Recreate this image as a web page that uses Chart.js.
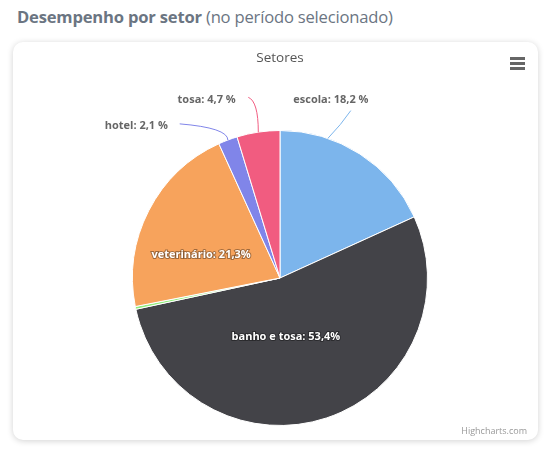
<!DOCTYPE html>
<html lang="pt">
<head>
    <meta charset="UTF-8">
    <title>Desempenho por setor</title>
    <script src="https://cdn.jsdelivr.net/npm/chart.js"></script>
    <style>
        body { margin: 0; background: #fff; font-family: "Open Sans", sans-serif; }
        #heading { position: absolute; left: 17px; top: 5px; font-size: 16.6px; color: #6b7582; letter-spacing: -0.2px; }
        #heading b { font-weight: 700; }
        #card {
            position: absolute; left: 13px; top: 42px; width: 525px; height: 398px;
            background: #fff; border-radius: 10px;
            box-shadow: 0 1px 6px rgba(0,0,0,0.18);
        }
        #card canvas { position: absolute; left: 0; top: 0; }
        #title { position: absolute; left: 0; width: 534px; top: 6px; text-align: center; font-size: 13.5px; color: #555; }
        #menu { position: absolute; left: 497px; top: 15px; width: 15px; }
        #menu div { height: 2.5px; background: #666; margin-bottom: 2.5px; }
        #credits { position: absolute; right: 11px; bottom: 3px; font-size: 9px; color: #999; }
    </style>
</head>
<body>
    <div id="heading"><b>Desempenho por setor</b> (no período selecionado)</div>
    <div id="card">
        <canvas id="pieChart" width="525" height="398"></canvas>
        <div id="title">Setores</div>
        <div id="menu"><div></div><div></div><div></div></div>
        <div id="credits">Highcharts.com</div>
    </div>

    <script>
        // setores e percentuais
        var sectors = ['escola', 'banho e tosa', 'outros', 'veterinário', 'hotel', 'tosa'];
        var shares = [18.2, 53.4, 0.3, 21.3, 2.1, 4.7];
        var colors = ['#7cb5ec', '#434348', '#90ed7d', '#f7a35c', '#8085e9', '#f15c80'];
        var insideLabels = ['banho e tosa', 'veterinário'];
        var hiddenLabels = ['outros'];

        function fmt(v) {
            return v.toFixed(1).replace('.', ',');
        }

        // label placement, in units of the pie radius, relative to the centre
        var labelSpots = {
            'escola':       { x: 0.48,  y: -1.135, tx: 0.345, ty: -1.21, align: 'center' },
            'tosa':         { x: -0.215, y: -1.225, tx: -0.30, ty: -1.21, align: 'right' },
            'hotel':        { x: -0.68, y: -1.045, tx: -0.76, ty: -1.03, align: 'right' },
            'veterinário':  { tx: -0.535, ty: -0.155 },
            'banho e tosa': { tx: 0.04, ty: 0.40 }
        };

        var pieLabels = {
            id: 'pieLabels',
            afterDatasetsDraw: function (chart) {
                var ctx = chart.ctx;
                var arcs = chart.getDatasetMeta(0).data;
                ctx.save();
                ctx.font = 'bold 11px "Open Sans", sans-serif';
                ctx.textBaseline = 'middle';
                arcs.forEach(function (arc, i) {
                    var name = sectors[i];
                    if (hiddenLabels.indexOf(name) >= 0) return;
                    var r = arc.outerRadius, cx = arc.x, cy = arc.y;
                    var spot = labelSpots[name];
                    if (insideLabels.indexOf(name) >= 0) {
                        var txt = name + ': ' + fmt(shares[i]) + '%';
                        ctx.textAlign = 'center';
                        ctx.lineWidth = 2;
                        ctx.strokeStyle = 'rgba(0,0,0,0.35)';
                        ctx.strokeText(txt, cx + spot.tx * r, cy + spot.ty * r);
                        ctx.fillStyle = '#fff';
                        ctx.fillText(txt, cx + spot.tx * r, cy + spot.ty * r);
                        return;
                    }
                    var mid = (arc.startAngle + arc.endAngle) / 2;
                    var ex = cx + Math.cos(mid) * r, ey = cy + Math.sin(mid) * r;
                    if (name === 'escola') {
                        // connector meets the rim below the lifted label
                        var a = -Math.PI / 2 + 0.33;
                        ex = cx + Math.cos(a) * r; ey = cy + Math.sin(a) * r;
                    }
                    var lx = cx + spot.x * r, ly = cy + spot.y * r;
                    ctx.beginPath();
                    ctx.moveTo(lx, ly);
                    if (name === 'escola') {
                        ctx.quadraticCurveTo((lx + ex) / 2 + 2, (ly + ey) / 2, ex, ey);
                    } else {
                        ctx.quadraticCurveTo(ex, ly + 4, ex, ey);
                    }
                    ctx.strokeStyle = colors[i];
                    ctx.lineWidth = 1;
                    ctx.stroke();
                    ctx.textAlign = spot.align;
                    ctx.fillStyle = '#666';
                    ctx.fillText(name + ': ' + fmt(shares[i]) + ' %', cx + spot.tx * r, cy + spot.ty * r);
                });
                ctx.restore();
            }
        };

        var ctx = document.getElementById('pieChart').getContext('2d');
        var pieChart = new Chart(ctx, {
            type: 'pie',
            data: {
                labels: sectors,
                datasets: [{
                    data: shares,
                    backgroundColor: colors,
                    borderColor: '#fff',
                    borderWidth: 1
                }]
            },
            options: {
                responsive: false,
                animation: false,
                layout: { padding: { left: 119, right: 110, top: 88, bottom: 14 } },
                plugins: {
                    legend: { display: false },
                    tooltip: { enabled: false },
                    title: { display: false }
                }
            },
            plugins: [pieLabels]
        });
    </script>
</body>
</html>
